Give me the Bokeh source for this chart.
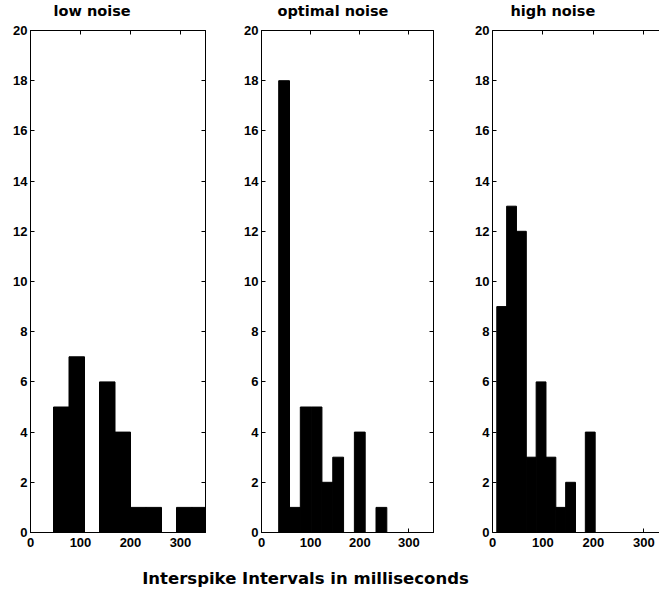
from bokeh.plotting import figure
from bokeh.models import Range1d, LinearAxis, FixedTicker, CustomLabelingPolicy
from bokeh.layouts import row, column
from bokeh.embed import file_html
from bokeh.resources import INLINE
from bokeh.core.properties import value

titles = ["low noise", "optimal noise", "high noise"]
low_edges = [46, 77, 108, 138, 169, 200, 231, 262, 292, 323, 354]
low_counts = [5, 7, 0, 6, 4, 1, 1, 0, 1, 1]
opt_edges = [35, 57, 79, 101, 123, 145, 167, 189, 211, 233, 255]
opt_counts = [18, 1, 5, 5, 2, 3, 0, 4, 0, 1]
high_edges = [8.5, 28, 47.5, 67, 86.5, 106, 125.5, 145, 164.5, 184, 203.5]
high_counts = [9, 13, 12, 3, 6, 3, 1, 2, 0, 4]
x_ticks = [0, 100, 200, 300]
y_ticks = [0, 2, 4, 6, 8, 10, 12, 14, 16, 18, 20]
xlabel = "Interspike Intervals in milliseconds"

TICK_FONT = "Liberation Sans"
TITLE_FONT = "DejaVu Sans"


def style_axis(ax, labels=True):
    ax.major_tick_in = 4
    ax.major_tick_out = 0
    ax.minor_tick_line_color = None
    ax.axis_line_color = "black"
    ax.major_tick_line_color = "black"
    if labels:
        ax.major_label_text_font = TICK_FONT
        ax.major_label_text_font_size = "13px"
        ax.major_label_text_font_style = "bold"
        ax.major_label_text_color = "black"
    else:
        ax.major_label_policy = CustomLabelingPolicy(code="return new Set()")
        ax.major_label_standoff = 0


def panel(title, edges, counts, width, bl, br, x_end, toff, right=True):
    p = figure(width=width, height=549, x_range=Range1d(0, x_end), y_range=Range1d(0, 20),
               toolbar_location=None, output_backend="svg",
               min_border_left=bl, min_border_right=br, min_border_top=30, min_border_bottom=16)
    p.xgrid.visible = False
    p.ygrid.visible = False
    p.background_fill_color = "white"
    p.border_fill_color = "white"
    p.outline_line_color = "black" if right else None
    p.quad(left=edges[:-1], right=edges[1:], bottom=0, top=counts,
           fill_color="black", line_color="black", line_width=1)
    p.xaxis.ticker = FixedTicker(ticks=x_ticks)
    p.yaxis.ticker = FixedTicker(ticks=y_ticks)
    style_axis(p.xaxis[0])
    style_axis(p.yaxis[0])
    p.xaxis.major_label_standoff = 5
    p.yaxis.major_label_standoff = 3
    top = LinearAxis(ticker=FixedTicker(ticks=x_ticks))
    style_axis(top, labels=False)
    p.add_layout(top, "above")
    if right:
        ra = LinearAxis(ticker=FixedTicker(ticks=y_ticks))
        style_axis(ra, labels=False)
        p.add_layout(ra, "right")
    p.title.text = title
    p.title.align = "left"
    p.title.offset = toff
    p.title.text_font = TITLE_FONT
    p.title.text_font_size = "14.5px"
    p.title.text_font_style = "bold"
    p.title.text_color = "black"
    p.title.standoff = 1
    return p


p1 = panel(titles[0], low_edges, low_counts, 236, 30, 31, 350, 23)
p2 = panel(titles[1], opt_edges, opt_counts, 231, 25, 34, 350, 16)
p3 = panel(titles[2], high_edges, high_counts, 192, 25, 0, 331, 18, right=False)

fl = figure(width=659, height=40, x_range=Range1d(0, 659), y_range=Range1d(0, 40),
            toolbar_location=None, output_backend="svg", min_border=0)
fl.title.visible = False
fl.axis.visible = False
fl.grid.visible = False
fl.outline_line_color = None
fl.text(x=[305], y=[11], text=[xlabel], text_font=value(TITLE_FONT), text_font_size="16.5px",
        text_font_style="bold", text_align="center", text_baseline="alphabetic", text_color="black")

layout = column(row(p1, p2, p3), fl)
open("out.html", "w").write(file_html(layout, INLINE))
